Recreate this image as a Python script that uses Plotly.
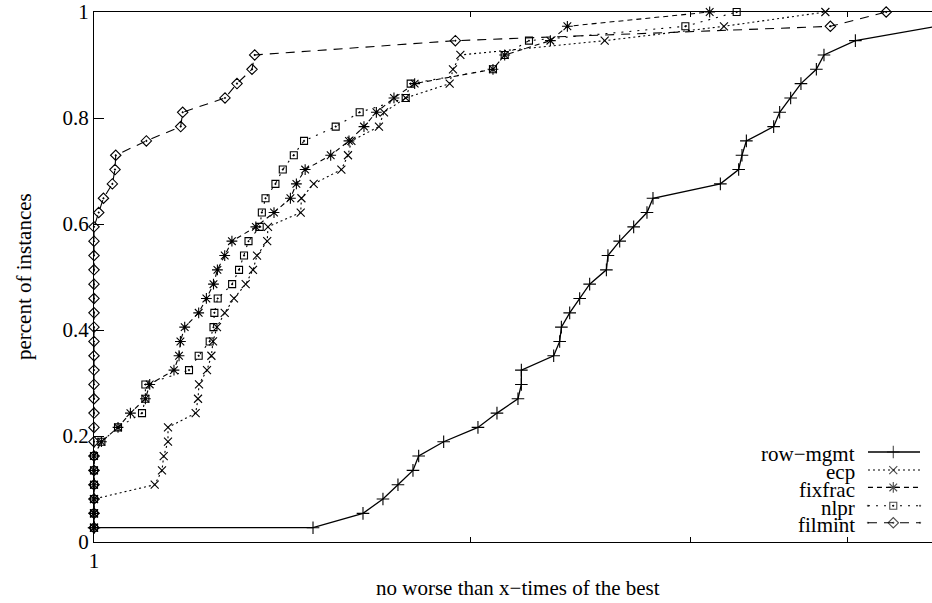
import plotly.graph_objects as go

# ---------------- data ----------------
series_names = ["row\u2212mgmt", "ecp", "fixfrac", "nlpr", "filmint"]

# fraction of instances (k/37), k = 1..37
share = [0.0270, 0.0541, 0.0811, 0.1081, 0.1351, 0.1622, 0.1892, 0.2162, 0.2432,
         0.2703, 0.2973, 0.3243, 0.3514, 0.3784, 0.4054, 0.4324, 0.4595, 0.4865,
         0.5135, 0.5405, 0.5676, 0.5946, 0.6216, 0.6486, 0.6757, 0.7027, 0.7297,
         0.7568, 0.7838, 0.8108, 0.8378, 0.8649, 0.8919, 0.9189, 0.9459, 0.9730, 1.0]

row_x = [1.0, 1.4965, 1.6407, 1.7021, 1.7498, 1.7988, 1.8178, 1.9034, 2.0274, 2.0996,
         2.1823, 2.1960, 2.1960, 2.3306, 2.3565, 2.3639, 2.4003, 2.4448, 2.4902, 2.5680,
         2.5755, 2.6317, 2.7003, 2.7673, 2.7980, 3.1675, 3.2760, 3.2960, 3.3228, 3.4940,
         3.5328, 3.6050, 3.6740, 3.7797, 3.8330, 4.0611, 4.72]
row_y = [0.0270, 0.0270, 0.0541, 0.0811, 0.1081, 0.1351, 0.1622, 0.1892, 0.2162,
         0.2432, 0.2703, 0.2973, 0.3243, 0.3514, 0.3784, 0.4054, 0.4324, 0.4595,
         0.4865, 0.5135, 0.5405, 0.5676, 0.5946, 0.6216, 0.6486, 0.6757, 0.7027,
         0.7297, 0.7568, 0.7838, 0.8108, 0.8378, 0.8649, 0.8919, 0.9189, 0.9459, 0.9730]

ecp_x = [1.0, 1.0, 1.0, 1.1182, 1.1333, 1.1369, 1.1459, 1.1459, 1.2058, 1.2110,
         1.2132, 1.2312, 1.2412, 1.2449, 1.2540, 1.2720, 1.2939, 1.3221, 1.3400, 1.3499,
         1.3755, 1.3775, 1.4630, 1.4649, 1.4984, 1.5767, 1.5960, 1.6060, 1.6897, 1.7053,
         1.7748, 1.9245, 1.9362, 1.9628, 2.5600, 3.1886, 3.8429]

fixfrac_x = [1.0, 1.0, 1.0, 1.0, 1.0, 1.0, 1.0137, 1.0452, 1.0693, 1.0992,
             1.1080, 1.1586, 1.1694, 1.1724, 1.1817, 1.2125, 1.2298, 1.2460, 1.2550, 1.2720,
             1.2890, 1.3470, 1.3928, 1.4355, 1.4514, 1.4750, 1.5460, 1.5989, 1.6437, 1.6816,
             1.7370, 1.8044, 2.0842, 2.1296, 2.3165, 2.3901, 3.1058]

nlpr_x = [1.0, 1.0, 1.0, 1.0, 1.0, 1.0, 1.0137, 1.0452, 1.0924, 1.0992,
          1.0992, 1.1911, 1.2125, 1.2373, 1.2460, 1.2480, 1.2557, 1.2895, 1.3060, 1.3180,
          1.3290, 1.3566, 1.3620, 1.3712, 1.3965, 1.4155, 1.4445, 1.4720, 1.5603, 1.6307,
          1.7748, 1.7912, 2.0842, 2.1296, 2.2270, 2.9699, 3.2640]

filmint_x = [1.0, 1.0, 1.0, 1.0, 1.0, 1.0, 1.0, 1.0, 1.0, 1.0,
             1.0, 1.0, 1.0, 1.0, 1.0, 1.0, 1.0, 1.0, 1.0, 1.0,
             1.0, 1.0, 1.0087, 1.0175, 1.0344, 1.0394, 1.0408, 1.1012, 1.1730, 1.1773,
             1.2727, 1.3011, 1.3375, 1.3442, 1.9448, 3.8784, 4.2980]

x_tick_vals = [1]
x_tick_text = ["1"]
x_minor_ticks = [2, 3, 4]
y_tick_vals = [0, 0.2, 0.4, 0.6, 0.8, 1.0]
y_tick_text = ["0", "0.2", "0.4", "0.6", "0.8", "1"]

# ---------------- styles ----------------
FONT = "Liberation Serif"
FS = 21
styles = [
    dict(dash="solid", symbol="cross-thin", size=9, width=1.3),
    dict(dash="2px,3px", symbol="x-thin", size=8, width=1.1),
    dict(dash="5px,4px", symbol="asterisk", size=9, width=1.1),
    dict(dash="2px,6px", symbol="square-open-dot", size=7, width=1.1),
    dict(dash="9px,7px", symbol="diamond-open-dot", size=8, width=1.1),
]
xs = [row_x, ecp_x, fixfrac_x, nlpr_x, filmint_x]
ys = [row_y, share, share, share, share]

fig = go.Figure()
for name, x, y, st in zip(series_names, xs, ys, styles):
    fig.add_trace(go.Scatter(
        x=x, y=y, name=name, mode="lines+markers", cliponaxis=False,
        line=dict(color="black", width=st["width"], dash=st["dash"]),
        marker=dict(symbol=st["symbol"], size=st["size"], color="black",
                    line=dict(color="black", width=1.1)),
        showlegend=False,
    ))

# ---------------- gnuplot-like legend (text left, sample right) ----------------
leg_rows_y = [0.1698, 0.1358, 0.1030, 0.0683, 0.0362]
leg_x0, leg_xm, leg_x1 = 0.9236, 0.9538, 0.9857
leg_text_x = 0.9101
for name, st, ly in zip(series_names, styles, leg_rows_y):
    fig.add_trace(go.Scatter(
        x=[leg_x0, leg_xm, leg_x1], y=[ly, ly, ly], xaxis="x2", yaxis="y2",
        mode="lines+markers", cliponaxis=False, showlegend=False, hoverinfo="skip",
        line=dict(color="black", width=st["width"], dash=st["dash"]),
        marker=dict(symbol=st["symbol"], size=[0, st["size"], 0], color="black",
                    line=dict(color="black", width=1.1)),
    ))
    fig.add_annotation(x=leg_text_x, y=ly - 0.004, xref="paper", yref="paper",
                       text=name, showarrow=False, xanchor="right", yanchor="middle",
                       font=dict(family=FONT, size=FS, color="black"))

# axis titles
fig.add_annotation(x=0.5054, y=-0.087, xref="paper", yref="paper",
                   text="no worse than x\u2212times of the best", showarrow=False,
                   xanchor="center", yanchor="middle",
                   font=dict(family=FONT, size=FS, color="black"))
fig.add_annotation(x=-0.0835, y=0.5, xref="paper", yref="paper",
                   text="percent of instances", showarrow=False, textangle=-90,
                   xanchor="center", yanchor="middle",
                   font=dict(family=FONT, size=FS, color="black"))

fig.update_layout(
    width=932, height=603,
    margin=dict(l=94, r=0, t=12, b=61),
    paper_bgcolor="white", plot_bgcolor="white",
    showlegend=False,
    font=dict(family=FONT, size=FS, color="black"),
    xaxis=dict(type="log", range=[0, 0.6699], showline=True, linecolor="black",
               linewidth=1.2, mirror="ticks", ticks="inside", ticklen=10,
               tickcolor="black", tickwidth=1, tickvals=x_tick_vals, ticktext=x_tick_text,
               minor=dict(tickvals=x_minor_ticks, ticks="inside", ticklen=5,
                          tickcolor="black", tickwidth=1, showgrid=False),
               showgrid=False, zeroline=False,
               tickfont=dict(family=FONT, size=FS, color="black")),
    yaxis=dict(range=[0, 1], showline=True, linecolor="black", linewidth=1.2,
               mirror=False, ticks="inside", ticklen=10, tickcolor="black",
               tickvals=y_tick_vals, ticktext=y_tick_text,
               showgrid=False, zeroline=False,
               tickfont=dict(family=FONT, size=FS, color="black")),
    xaxis2=dict(range=[0, 1], overlaying="x", anchor="y2", visible=False,
                showgrid=False, zeroline=False),
    yaxis2=dict(range=[0, 1], overlaying="y", anchor="x2", visible=False,
                showgrid=False, zeroline=False),
)

fig.write_html("out.html")
